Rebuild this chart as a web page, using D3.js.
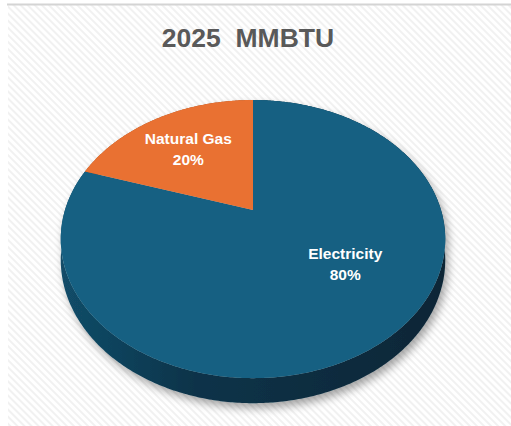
<!DOCTYPE html>
<html>
<head>
<meta charset="utf-8">
<script src="https://cdn.jsdelivr.net/npm/d3@7"></script>
<style>
  body { margin: 0; background: #fff; }
  svg { display: block; }
</style>
</head>
<body>
<svg width="511" height="426"></svg>
<script>
var width = 511,
    height = 426;

// chart data
var categories = ["Electricity", "Natural Gas"];
var shares = [80, 20];
var labels = ["80%", "20%"];
var title = "2025\u00a0\u00a0MMBTU";

var topColors = ["#156082", "#E97132"];
var sideColors = ["url(#sideBlue)", "#a24d1f"];

// label anchor inside each slice: fraction of radius and angle shift (radians)
var labelRadius = [0.58, 0.65];
var labelShift = [-0.27, 0];

// 3d look of the pie (screen projection of a tilted disk)
var cx = 253, cy = 210;
var sx = 188, sy = 133;
var persp = 0.209;
var depth = 19.8;

var svg = d3.select("svg");
var defs = svg.append("defs");

// diagonal stripe background
var pat = defs.append("pattern")
    .attr("id", "stripes")
    .attr("width", 5)
    .attr("height", 5)
    .attr("patternUnits", "userSpaceOnUse")
    .attr("patternTransform", "rotate(-45)");
pat.append("rect").attr("width", 5).attr("height", 5).attr("fill", "#ffffff");
pat.append("rect").attr("width", 2).attr("height", 5).attr("fill", "#f1f1f1");

var grad = defs.append("linearGradient")
    .attr("id", "sideBlue")
    .attr("x1", "0%").attr("x2", "100%")
    .attr("y1", "0%").attr("y2", "0%");
grad.append("stop").attr("offset", "0%").attr("stop-color", "#124d69");
grad.append("stop").attr("offset", "35%").attr("stop-color", "#0c3349");
grad.append("stop").attr("offset", "100%").attr("stop-color", "#092636");

var shadow = defs.append("filter")
    .attr("id", "shadow")
    .attr("x", "-20%").attr("y", "-20%")
    .attr("width", "140%").attr("height", "140%");
shadow.append("feDropShadow")
    .attr("dx", 3)
    .attr("dy", 5)
    .attr("stdDeviation", 4)
    .attr("flood-color", "#000")
    .attr("flood-opacity", 0.35);

// chart area
svg.append("rect")
    .attr("x", 8).attr("y", 5)
    .attr("width", width - 8).attr("height", height - 5)
    .attr("fill", "url(#stripes)");
svg.append("line")
    .attr("x1", 7).attr("x2", width)
    .attr("y1", 4.5).attr("y2", 4.5)
    .attr("stroke", "#d4d4d4")
    .attr("stroke-width", 2);

svg.append("text")
    .attr("x", 248)
    .attr("y", 47)
    .attr("text-anchor", "middle")
    .attr("font-family", "Liberation Sans, Arial, sans-serif")
    .attr("font-weight", "bold")
    .attr("font-size", 26.5)
    .attr("fill", "#595959")
    .text(title);

// angle 0 = far side (top), clockwise like d3.pie
// drop = how far the point is pushed down (thickness), scaled by perspective
function project(angle, f, drop) {
    var u = f * Math.sin(angle),
        v = f * Math.cos(angle);
    var w = 1 + persp * v;
    return [cx + sx * u / w, cy - sy * v / w + drop / w];
}

function arcPoints(a0, a1, drop) {
    var n = Math.max(2, Math.ceil((a1 - a0) / 0.01));
    return d3.range(n + 1).map(function (i) {
        return project(a0 + (a1 - a0) * i / n, 1, drop);
    });
}

var line = d3.line();

var pie = d3.pie().sort(null)(shares);

var pieGroup = svg.append("g").attr("filter", "url(#shadow)");

// sides first (hidden where the top faces overlap)
pieGroup.selectAll("path.side")
    .data(pie)
    .join("path")
    .attr("class", "side")
    .attr("fill", function (d, i) { return sideColors[i]; })
    .attr("d", function (d) {
        var top = arcPoints(d.startAngle, d.endAngle, 0);
        var bottom = arcPoints(d.startAngle, d.endAngle, depth).reverse();
        return line(top.concat(bottom)) + "Z";
    });

pieGroup.selectAll("path.top")
    .data(pie)
    .join("path")
    .attr("class", "top")
    .attr("fill", function (d, i) { return topColors[i]; })
    .attr("d", function (d) {
        var pts = [project(0, 0, 0)].concat(arcPoints(d.startAngle, d.endAngle, 0));
        return line(pts) + "Z";
    });

// labels
var lab = svg.selectAll("text.lab")
    .data(pie)
    .join("text")
    .attr("class", "lab")
    .attr("text-anchor", "middle")
    .attr("font-family", "Liberation Sans, Arial, sans-serif")
    .attr("font-weight", "bold")
    .attr("font-size", 15.5)
    .attr("fill", "#ffffff")
    .attr("transform", function (d, i) {
        var mid = (d.startAngle + d.endAngle) / 2 + labelShift[i];
        var p = project(mid, labelRadius[i], 0);
        return "translate(" + p[0] + "," + p[1] + ")";
    });

lab.append("tspan")
    .attr("x", 0)
    .attr("dy", "-0.2em")
    .text(function (d, i) { return categories[i]; });
lab.append("tspan")
    .attr("x", 0)
    .attr("dy", "1.35em")
    .text(function (d, i) { return labels[i]; });
</script>
</body>
</html>
